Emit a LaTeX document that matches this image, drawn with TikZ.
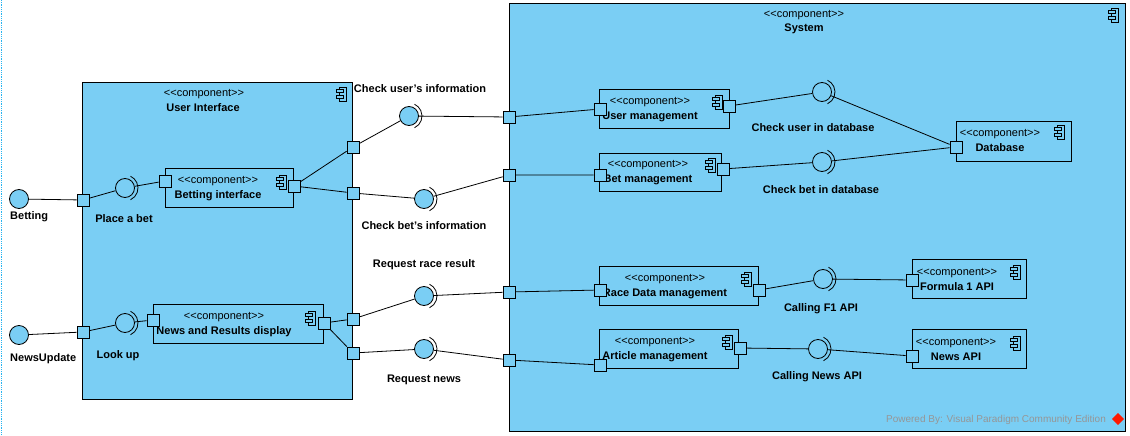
\documentclass[tikz,border=0pt]{standalone}
\usepackage{fontspec}
\setmainfont{Liberation Sans}
\definecolor{vpblue}{RGB}{122,206,244}
\definecolor{vpgrey}{RGB}{150,150,150}
\definecolor{selcyan}{RGB}{40,180,240}
\newcommand{\stereo}{<{}<component>{}>}
\tikzset{
    every node/.append style={font=\fontsize{11}{13}\selectfont},
    frame/.style={draw, fill=vpblue, line width=0.8pt},
    comp/.style={draw, fill=vpblue, rectangle, inner sep=0pt, line width=0.8pt},
    ctext/.style={align=center, inner sep=0pt, font=\fontsize{11}{15}\selectfont},
    port/.style={draw, fill=vpblue, rectangle, minimum size=12pt, inner sep=0pt, line width=0.8pt},
    ball/.style={draw, fill=vpblue, circle, minimum size=19pt, inner sep=0pt, line width=0.8pt},
    lbl/.style={inner sep=0pt, font=\bfseries\fontsize{11}{13}\selectfont},
    wire/.style={line width=0.8pt},
    cicon/.pic={
        \draw[line width=0.7pt] (-3.5pt,-7pt) rectangle (3.5pt,7pt);
        \draw[line width=0.7pt, fill=vpblue] (-7pt,-4.5pt) rectangle (0pt,-1.5pt);
        \draw[line width=0.7pt, fill=vpblue] (-7pt,1.5pt) rectangle (0pt,4.5pt);
    }
}

\begin{document}
\begin{tikzpicture}[x=1pt, y=-1pt]
    \useasboundingbox (0,0) rectangle (1130,436);
    \draw[selcyan, densely dotted, line width=0.8pt] (1,0) -- (1,436);

    % outer components
    \draw[frame] (82,82) rectangle (352,399);
    \node (uistereo) at (204,94) {\stereo};
    \node[lbl] (uititle) at (203,108) {User Interface};
    \pic at (343,94) {cicon};
    \draw[frame] (509,3) rectangle (1125,431);
    \node (sysstereo) at (804,15) {\stereo};
    \node[lbl] (systitle) at (804,29) {System};
    \pic at (1115,15) {cicon};

    % inner components
    \node[comp, minimum width=128pt, minimum height=39pt] (betint) at (229,187.5) {};
    \node[ctext] (betinttext) at (218,188.5) {\stereo\\\textbf{Betting interface}};
    \pic at (283,182) {cicon};
    \node[comp, minimum width=170pt, minimum height=39pt] (newsdisp) at (238,323.5) {};
    \node[ctext] (newsdisptext) at (224,324.5) {\stereo\\\textbf{News and Results display}};
    \pic at (312,318) {cicon};
    \node[comp, minimum width=130pt, minimum height=39pt] (userman) at (664,108.5) {};
    \node[ctext] (usermantext) at (650,109.5) {\stereo\\\textbf{User management}};
    \pic at (719,102) {cicon};
    \node[comp, minimum width=122pt, minimum height=38pt] (betman) at (660,172) {};
    \node[ctext] (betmantext) at (648,172.5) {\stereo\\\textbf{Bet management}};
    \pic at (712,165) {cicon};
    \node[comp, minimum width=115pt, minimum height=40pt] (database) at (1013.5,141) {};
    \node[ctext] (databasetext) at (1000,140.5) {\stereo\\\textbf{Database}};
    \pic at (1061,132) {cicon};
    \node[comp, minimum width=159pt, minimum height=39pt] (racedata) at (678.5,285.5) {};
    \node[ctext] (racedatatext) at (665,286.5) {\stereo\\\textbf{Race Data management}};
    \pic at (748,279) {cicon};
    \node[comp, minimum width=139pt, minimum height=39pt] (article) at (668.5,348.5) {};
    \node[ctext] (articletext) at (655,349.5) {\stereo\\\textbf{Article management}};
    \pic at (729,342) {cicon};
    \node[comp, minimum width=114pt, minimum height=39pt] (formula) at (969,278.5) {};
    \node[ctext] (formulatext) at (957,279.5) {\stereo\\\textbf{Formula 1 API}};
    \pic at (1017,272) {cicon};
    \node[comp, minimum width=114pt, minimum height=39pt] (newsapi) at (969,348.5) {};
    \node[ctext] (newsapitext) at (956,349.5) {\stereo\\\textbf{News API}};
    \pic at (1017,343) {cicon};

    % ports
    \node[port] (uiL1) at (83,200) {};
    \node[port] (uiL2) at (83,332) {};
    \node[port] (uiR1) at (353,147) {};
    \node[port] (uiR2) at (353,193) {};
    \node[port] (uiR3) at (353,319) {};
    \node[port] (uiR4) at (353,353) {};
    \node[port] (sysL1) at (509,117) {};
    \node[port] (sysL2) at (509,175) {};
    \node[port] (sysL3) at (509,292) {};
    \node[port] (sysL4) at (509,360) {};
    \node[port] (betintL) at (165,181) {};
    \node[port] (betintR) at (294,186) {};
    \node[port] (newsdispL) at (153,320) {};
    \node[port] (newsdispR) at (324,323) {};
    \node[port] (usermanL) at (600,109) {};
    \node[port] (usermanR) at (729,106) {};
    \node[port] (betmanL) at (600,175) {};
    \node[port] (betmanR) at (723,169) {};
    \node[port] (databaseL) at (956,147) {};
    \node[port] (racedataL) at (600,290) {};
    \node[port] (racedataR) at (759,290) {};
    \node[port] (articleL) at (600,365) {};
    \node[port] (articleR) at (740,348) {};
    \node[port] (formulaL) at (912,280) {};
    \node[port] (newsapiL) at (912,356) {};

    % interfaces
    \node[ball] (betting) at (19,199) {};
    \node[ball] (newsupd) at (19,335) {};
    \node[ball] (placebet) at (125,188) {};
    \node[ball] (lookup) at (125,323) {};
    \node[ball] (chkuser) at (409,116) {};
    \node[ball] (chkbet) at (424,199) {};
    \node[ball] (reqrace) at (424,296) {};
    \node[ball] (reqnews) at (424,349) {};
    \node[ball] (chkuserdb) at (822,92) {};
    \node[ball] (chkbetdb) at (822,162) {};
    \node[ball] (callf1) at (823,279) {};
    \node[ball] (callnews) at (818,349) {};
    \foreach \b in {placebet, lookup, chkuser, chkbet, reqrace, reqnews, chkuserdb, chkbetdb, callf1, callnews}
        \draw[wire] ([shift={(-65:13pt)}]\b.center) arc[start angle=-65, end angle=65, radius=13pt];

    % connectors
    \draw[wire] (betting) -- (uiL1) -- (placebet) -- (betintL);
    \draw[wire] (newsupd) -- (uiL2) -- (lookup) -- (newsdispL);
    \draw[wire] (uiR1) -- (betintR) -- (uiR2);
    \draw[wire] (uiR3) -- (newsdispR) -- (uiR4);
    \draw[wire] (uiR1) -- (chkuser) -- (sysL1) -- (usermanL);
    \draw[wire] (uiR2) -- (chkbet) -- (sysL2) -- (betmanL);
    \draw[wire] (uiR3) -- (reqrace) -- (sysL3) -- (racedataL);
    \draw[wire] (uiR4) -- (reqnews) -- (sysL4) -- (articleL);
    \draw[wire] (usermanR) -- (chkuserdb) -- (databaseL);
    \draw[wire] (betmanR) -- (chkbetdb) -- (databaseL);
    \draw[wire] (racedataR) -- (callf1) -- (formulaL);
    \draw[wire] (articleR) -- (callnews) -- (newsapiL);

    % labels
    \node[lbl, anchor=west] (bettinglbl) at (10,217) {Betting};
    \node[lbl, anchor=west] (newsupdlbl) at (10,359) {NewsUpdate};
    \node[lbl] (placebetlbl) at (124,219) {Place a bet};
    \node[lbl] (lookuplbl) at (118,356) {Look up};
    \node[lbl] (chkuserlbl) at (420,89) {Check user's information};
    \node[lbl] (chkbetlbl) at (424,226) {Check bet's information};
    \node[lbl] (reqracelbl) at (424,265) {Request race result};
    \node[lbl] (reqnewslbl) at (424,380) {Request news};
    \node[lbl] (chkuserdblbl) at (813,128) {Check user in database};
    \node[lbl] (chkbetdblbl) at (821,190) {Check bet in database};
    \node[lbl] (callf1lbl) at (821,309) {Calling F1 API};
    \node[lbl] (callnewslbl) at (817,377) {Calling News API};

    % watermark
    \node[text=vpgrey, font=\fontsize{10}{12}\selectfont] (powered) at (996,420) {Powered By: Visual Paradigm Community Edition};
    \node[draw=red!80!orange, fill=red!80!orange, rotate=45, minimum size=8pt, inner sep=0pt] (vplogo) at (1118,419) {};
\end{tikzpicture}
\end{document}
